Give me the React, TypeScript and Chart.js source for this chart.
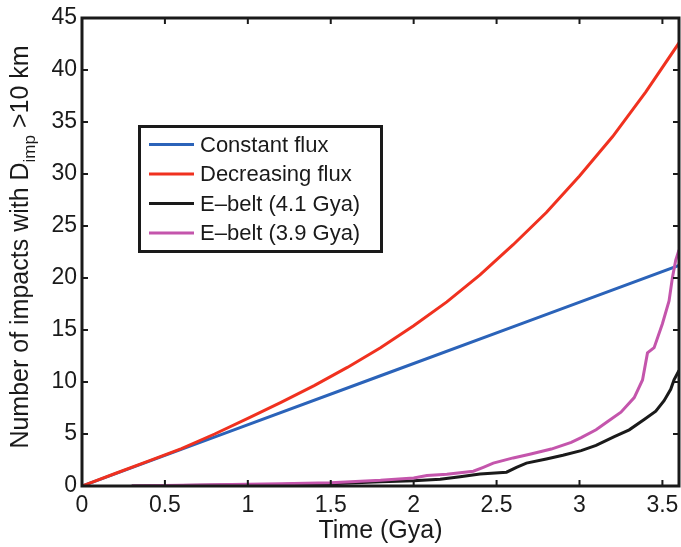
import React, { useEffect, useRef } from "react";
import { Chart, registerables } from "chart.js";

Chart.register(...registerables);

// ---------- data ----------
const timeConst = [0, 0.9, 1.8, 2.7, 3.6];
const constFlux = [0, 5.3, 10.6, 15.9, 21.2];

const timeDecr = [0, 0.2, 0.4, 0.6, 0.8, 1.0, 1.2, 1.4, 1.6, 1.8, 2.0, 2.2, 2.4, 2.6, 2.8, 3.0, 3.2, 3.4, 3.6];
const decrFlux = [0, 1.2, 2.4, 3.6, 5.0, 6.5, 8.05, 9.65, 11.4, 13.3, 15.4, 17.7, 20.3, 23.2, 26.3, 29.8, 33.6, 37.9, 42.6];

const time41 = [0.3, 0.6, 0.9, 1.2, 1.5, 1.8, 2.0, 2.16, 2.28, 2.4, 2.56, 2.62, 2.68, 2.8, 2.9, 3.01, 3.1, 3.21, 3.3, 3.39, 3.46, 3.51, 3.55, 3.57, 3.6];
const ebelt41 = [0, 0.05, 0.1, 0.15, 0.22, 0.4, 0.5, 0.65, 0.9, 1.15, 1.33, 1.8, 2.2, 2.6, 2.95, 3.4, 3.9, 4.75, 5.4, 6.4, 7.2, 8.2, 9.3, 10.2, 11.1];

const time39 = [0.3, 0.6, 0.9, 1.2, 1.5, 1.8, 2.0, 2.08, 2.2, 2.36, 2.42, 2.48, 2.6, 2.7, 2.83, 2.95, 3.01, 3.1, 3.17, 3.25, 3.33, 3.38, 3.41, 3.45, 3.5, 3.54, 3.56, 3.58, 3.6];
const ebelt39 = [0, 0.08, 0.15, 0.22, 0.32, 0.55, 0.78, 1.0, 1.12, 1.42, 1.8, 2.2, 2.7, 3.05, 3.55, 4.2, 4.65, 5.4, 6.2, 7.1, 8.5, 10.2, 12.8, 13.3, 15.6, 17.8, 20.0, 21.7, 22.7];

const xTicks = [0, 0.5, 1, 1.5, 2, 2.5, 3, 3.5];
const yTicks = [0, 5, 10, 15, 20, 25, 30, 35, 40, 45];

const seriesLabels = ["Constant flux", "Decreasing flux", "E\u2013belt (4.1 Gya)", "E\u2013belt (3.9 Gya)"];
const seriesColors = ["#2b63b9", "#f0311f", "#1a1a1a", "#c455ac"];

const FAMILY = "'Liberation Sans', Arial, Helvetica, sans-serif";
const INK = "#1a1a1a";

const pts = (xs: number[], ys: number[]) => xs.map((x, i) => ({ x, y: ys[i] }));

const framePlugin = {
  id: "frame",
  afterDraw(chart: any) {
    const { ctx, chartArea: a, scales } = chart;
    ctx.save();
    ctx.strokeStyle = INK;
    ctx.lineWidth = 2;
    const tl = 6;
    ctx.beginPath();
    for (const v of xTicks) {
      const px = scales.x.getPixelForValue(v);
      ctx.moveTo(px, a.bottom);
      ctx.lineTo(px, a.bottom - tl);
      ctx.moveTo(px, a.top);
      ctx.lineTo(px, a.top + tl);
    }
    for (const v of yTicks) {
      const py = scales.y.getPixelForValue(v);
      ctx.moveTo(a.left, py);
      ctx.lineTo(a.left + tl, py);
      ctx.moveTo(a.right, py);
      ctx.lineTo(a.right - tl, py);
    }
    ctx.stroke();
    ctx.lineWidth = 3;
    ctx.strokeRect(a.left, a.top, a.right - a.left, a.bottom - a.top);
    ctx.restore();

    // y-axis title with subscript
    ctx.save();
    const fs = 25;
    const sfs = 17;
    const main = "Number of impacts with D";
    const sub = "imp";
    const tail = " >10 km";
    ctx.fillStyle = INK;
    ctx.translate(28, 247);
    ctx.rotate(-Math.PI / 2);
    ctx.textBaseline = "alphabetic";
    ctx.textAlign = "left";
    ctx.font = `${fs}px ${FAMILY}`;
    const wMain = ctx.measureText(main).width;
    const wTail = ctx.measureText(tail).width;
    ctx.font = `${sfs}px ${FAMILY}`;
    const wSub = ctx.measureText(sub).width;
    let x = -(wMain + wSub + wTail) / 2;
    ctx.font = `${fs}px ${FAMILY}`;
    ctx.fillText(main, x, 0);
    x += wMain;
    ctx.font = `${sfs}px ${FAMILY}`;
    ctx.fillText(sub, x, 7);
    x += wSub;
    ctx.font = `${fs}px ${FAMILY}`;
    ctx.fillText(tail, x, 0);
    ctx.restore();

    // legend box
    ctx.save();
    const bx = 139.5, by = 126.5, bw = 242, bh = 125;
    ctx.fillStyle = "#ffffff";
    ctx.fillRect(bx, by, bw, bh);
    ctx.lineWidth = 3;
    ctx.strokeStyle = INK;
    ctx.strokeRect(bx, by, bw, bh);
    ctx.font = `22px ${FAMILY}`;
    ctx.textBaseline = "middle";
    ctx.textAlign = "left";
    const rowY = [144.5, 174, 203.5, 233];
    seriesLabels.forEach((lab, i) => {
      ctx.strokeStyle = seriesColors[i];
      ctx.lineWidth = 3;
      ctx.beginPath();
      ctx.moveTo(149, rowY[i]);
      ctx.lineTo(194, rowY[i]);
      ctx.stroke();
      ctx.fillStyle = INK;
      ctx.fillText(lab, 200, rowY[i] + 1);
    });
    ctx.restore();
  },
};

export default function App() {
  const ref = useRef<HTMLCanvasElement | null>(null);

  useEffect(() => {
    if (!ref.current) return;
    const tickFont = { family: FAMILY, size: 23 };
    const chart = new Chart(ref.current, {
      type: "line",
      data: {
        datasets: [
          { label: seriesLabels[0], data: pts(timeConst, constFlux), borderColor: seriesColors[0], order: 2 },
          { label: seriesLabels[1], data: pts(timeDecr, decrFlux), borderColor: seriesColors[1], order: 0 },
          { label: seriesLabels[2], data: pts(time41, ebelt41), borderColor: seriesColors[2], order: 3 },
          { label: seriesLabels[3], data: pts(time39, ebelt39), borderColor: seriesColors[3], order: 1 },
        ],
      },
      options: {
        animation: false,
        responsive: false,
        maintainAspectRatio: false,
        layout: { padding: { top: 18, right: 2, left: 0, bottom: 0 } },
        plugins: { legend: { display: false }, tooltip: { enabled: false } },
        elements: {
          point: { radius: 0 },
          line: { borderWidth: 3, tension: 0, fill: false },
        },
        scales: {
          x: {
            type: "linear",
            min: 0,
            max: 3.6,
            afterBuildTicks: (s: any) => {
              s.ticks = xTicks.map((v) => ({ value: v }));
            },
            afterFit: (s: any) => {
              s.height = 61;
              s.paddingLeft = 0;
              s.paddingRight = 0;
            },
            ticks: {
              font: tickFont,
              color: INK,
              padding: 6,
              maxRotation: 0,
              autoSkip: false,
              callback: (v: any) => String(v),
            },
            grid: { display: false, drawTicks: false },
            border: { display: false },
            title: {
              display: true,
              text: "Time (Gya)",
              font: { family: FAMILY, size: 25 },
              color: INK,
              padding: { top: 0, bottom: 1 },
            },
          },
          y: {
            type: "linear",
            min: 0,
            max: 45,
            afterBuildTicks: (s: any) => {
              s.ticks = yTicks.map((v) => ({ value: v }));
            },
            afterFit: (s: any) => {
              s.width = 82;
              s.paddingTop = 0;
              s.paddingBottom = 0;
            },
            ticks: {
              font: tickFont,
              color: INK,
              padding: 5,
              autoSkip: false,
              callback: (v: any) => String(v),
            },
            grid: { display: false, drawTicks: false },
            border: { display: false },
          },
        },
      },
      plugins: [framePlugin],
    } as any);
    return () => chart.destroy();
  }, []);

  return (
    <div style={{ position: "fixed", left: 0, top: 0, width: 681, height: 547, background: "#fff" }}>
      <canvas ref={ref} width={681} height={547} style={{ width: 681, height: 547, display: "block" }} />
    </div>
  );
}
